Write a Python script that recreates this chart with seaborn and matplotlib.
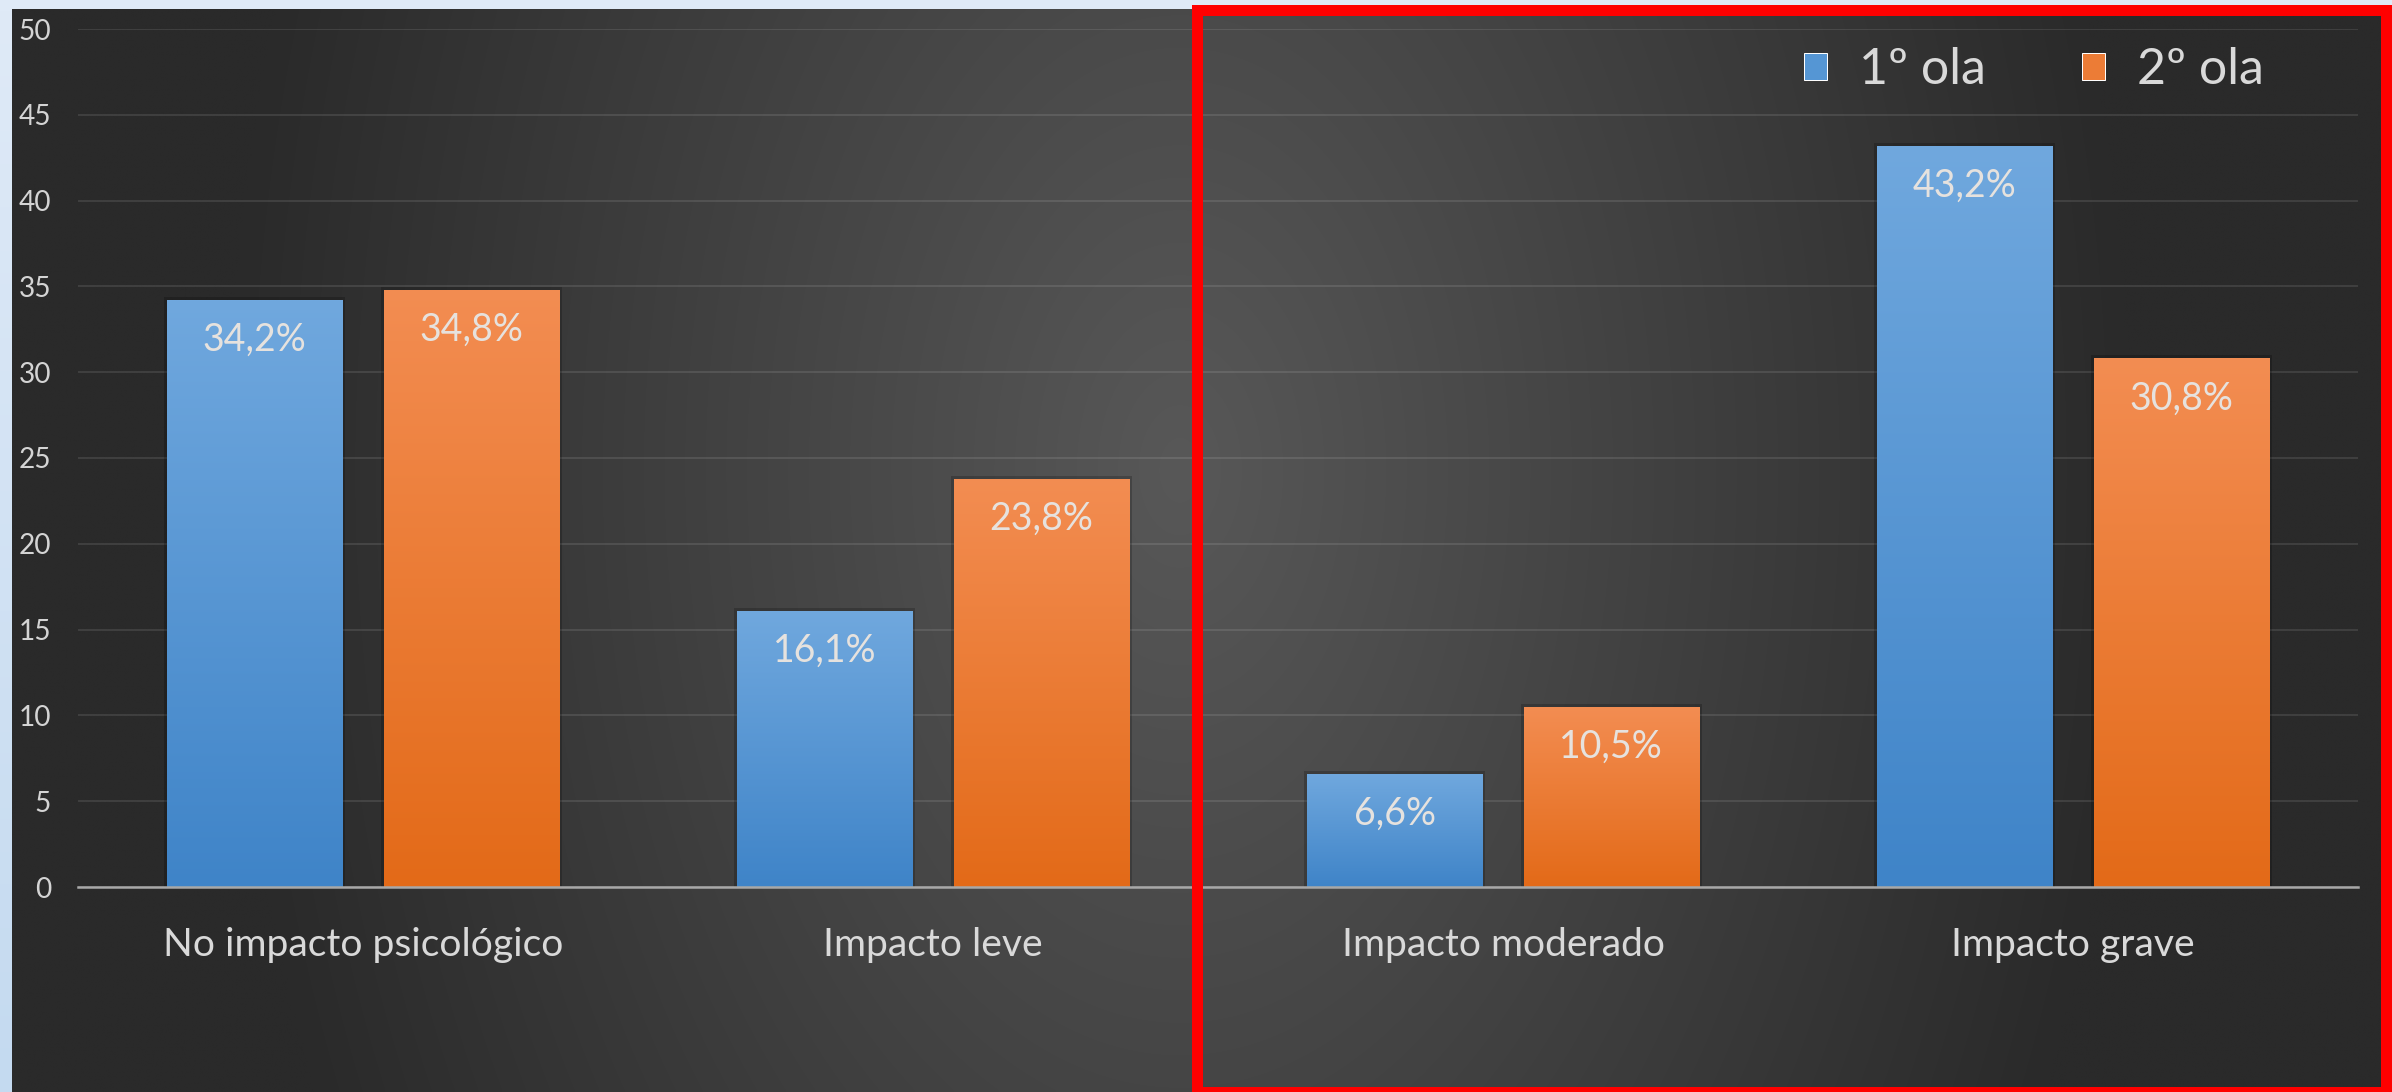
import numpy as np
import pandas as pd
import matplotlib
matplotlib.use("Agg")
import matplotlib.pyplot as plt
import seaborn as sns
from matplotlib.patches import Rectangle, Patch
from matplotlib.colors import LinearSegmentedColormap
import matplotlib.patheffects as pe

# datos
categorias = ["No impacto psicológico", "Impacto leve", "Impacto moderado", "Impacto grave"]
olas = ["1º ola", "2º ola"]
ola1 = [34.2, 16.1, 6.6, 43.2]
ola2 = [34.8, 23.8, 10.5, 30.8]
etiquetas1 = ["34,2%", "16,1%", "6,6%", "43,2%"]
etiquetas2 = ["34,8%", "23,8%", "10,5%", "30,8%"]
yticks = [0, 5, 10, 15, 20, 25, 30, 35, 40, 45, 50]

df = pd.DataFrame({
    "categoria": categorias * 2,
    "valor": ola1 + ola2,
    "ola": [olas[0]] * 4 + [olas[1]] * 4,
})

W, H, DPI = 2392, 1092, 72
FONT = ["Lato", "DejaVu Sans"]
sns.set_theme(style="white")
plt.rcParams["font.family"] = FONT

fig = plt.figure(figsize=(W / DPI, H / DPI), dpi=DPI)

# marco azul claro
ax_frame = fig.add_axes([0, 0, 1, 1], zorder=-3)
ax_frame.axis("off")
frame = np.linspace(0, 1, 100)[:, None, None] * (np.array([196, 218, 240]) - np.array([223, 234, 247])) + np.array([223, 234, 247])
ax_frame.imshow(frame / 255, aspect="auto", extent=[0, 1, 0, 1])

# fondo oscuro con degradado radial
ax_bg = fig.add_axes([12 / W, 0, 1 - 12 / W, (H - 9) / H], zorder=-2)
ax_bg.axis("off")
xs = np.linspace(12, W, 600)
ys = np.linspace(9, H, 300)
X, Y = np.meshgrid(xs, ys)
r = np.sqrt(((X - 1180) / 950) ** 2 + ((Y - 470) / 1500) ** 2)
L = 42 + 46 * np.clip(1 - r, 0, 1)
bg = np.dstack([L, L, L]) / 255
ax_bg.imshow(bg, aspect="auto", extent=[0, 1, 0, 1], interpolation="bilinear")

# grafico principal
ax = fig.add_axes([78 / W, (H - 887) / H, (2358 - 78) / W, (887 - 29) / H], zorder=1)
ax.set_facecolor("none")

azul_top, azul_bot = "#70a8de", "#3f84c8"
nar_top, nar_bot = "#f38d52", "#e36a18"
sns.barplot(data=df, x="categoria", y="valor", hue="ola", order=categorias, hue_order=olas,
            palette=["#5596d4", "#ec7c36"], width=0.76, gap=0.19, saturation=1,
            linewidth=0, legend=False, ax=ax)

cmaps = [LinearSegmentedColormap.from_list("b", [azul_top, azul_bot]),
         LinearSegmentedColormap.from_list("o", [nar_top, nar_bot])]
grad = np.linspace(0, 1, 256)[:, None]
labels = [etiquetas1, etiquetas2]
for k, cont in enumerate(ax.containers):
    for bar, lab in zip(cont, labels[k]):
        bar.set_path_effects([pe.withStroke(linewidth=6, foreground=(0, 0, 0, 0.2))])
        x0, w, h = bar.get_x(), bar.get_width(), bar.get_height()
        im = ax.imshow(grad, cmap=cmaps[k], aspect="auto", extent=[x0, x0 + w, 0, h],
                       origin="upper", zorder=bar.get_zorder() + 0.1)
        im.set_clip_path(bar)
        ax.annotate(lab, (x0 + w / 2, h), xytext=(0, -40), textcoords="offset points",
                    ha="center", va="center", fontsize=37.5, color="#e6e2de", zorder=5)

ax.set_xlim(-0.5, 3.5)
ax.set_ylim(0, 50)
ax.set_yticks(yticks)
ax.set_xlabel("")
ax.set_ylabel("")
ax.yaxis.grid(True, color="#ffffff", alpha=0.1, lw=2)
ax.set_axisbelow(True)
for s in ["top", "right", "left"]:
    ax.spines[s].set_visible(False)
ax.spines["bottom"].set_color("#a8a8a8")
ax.spines["bottom"].set_linewidth(2.5)
ax.spines["bottom"].set_zorder(6)
ax.tick_params(axis="y", length=0, pad=27, labelsize=28, labelcolor="#d4d4d4")
ax.tick_params(axis="x", length=0, pad=40, labelsize=39, labelcolor="#d9d9d9")

# leyenda
handles = [Patch(facecolor="#5596d4"), Patch(facecolor="#ec7c36")]
fig.legend(handles, olas, loc="center left", bbox_to_anchor=(1779 / W, 1 - 70 / H),
           ncol=2, frameon=False, fontsize=50, labelcolor="#d9d9d9", borderpad=0,
           handlelength=0.46, handleheight=0.46, handletextpad=0.64, columnspacing=1.92)

# recuadro rojo
fig.patches.append(Rectangle((1197 / W, 0), (2386 - 1197) / W, (H - 9.5) / H, fill=False,
                             edgecolor="#ff0000", lw=11, transform=fig.transFigure,
                             figure=fig, zorder=10))

fig.savefig("out.png", dpi=DPI)
